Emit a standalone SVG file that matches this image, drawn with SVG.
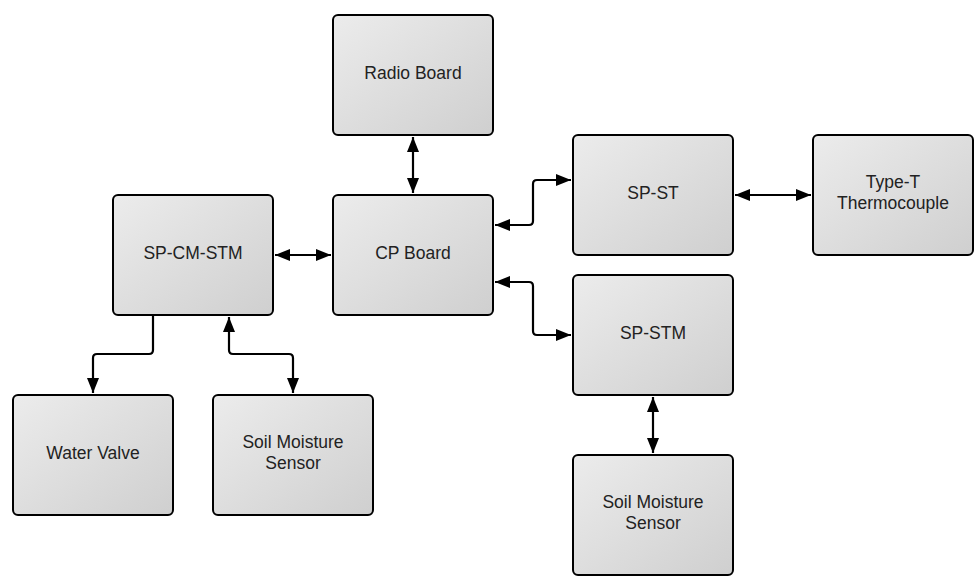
<svg xmlns="http://www.w3.org/2000/svg" width="980" height="586" viewBox="0 0 980 586">
<defs>
<linearGradient id="g" x1="0" y1="0" x2="1" y2="1">
<stop offset="0" stop-color="#ececec"/>
<stop offset="1" stop-color="#cfcfcf"/>
</linearGradient>
<marker id="ah" markerUnits="userSpaceOnUse" markerWidth="16" markerHeight="14" refX="15" refY="7" orient="auto-start-reverse">
<path d="M0,1 L15,7 L0,13 Z" fill="#000"/>
</marker>
<style>
.n rect{fill:url(#g);stroke:#000;stroke-width:2}
.n text{font-family:"Liberation Sans",Arial,sans-serif;font-size:17.5px;fill:#222;text-anchor:middle}
.c path{fill:none;stroke:#000;stroke-width:2.2;stroke-linejoin:round}
</style>
</defs>
<rect width="980" height="586" fill="#fff"/>
<g class="c">
<path d="M413,137 L413,193" marker-start="url(#ah)" marker-end="url(#ah)"/>
<path d="M275,255 L331,255" marker-start="url(#ah)" marker-end="url(#ah)"/>
<path d="M495,225 L529,225 Q533,225 533,221 L533,184 Q533,180 537,180 L571,180" marker-start="url(#ah)" marker-end="url(#ah)"/>
<path d="M495,282 L529,282 Q533,282 533,286 L533,331 Q533,335 537,335 L571,335" marker-start="url(#ah)" marker-end="url(#ah)"/>
<path d="M735,195 L811,195" marker-start="url(#ah)" marker-end="url(#ah)"/>
<path d="M153,316 L153,350 Q153,354 149,354 L97,354 Q93,354 93,358 L93,393" marker-end="url(#ah)"/>
<path d="M229,317 L229,350 Q229,354 233,354 L289,354 Q293,354 293,358 L293,393" marker-start="url(#ah)" marker-end="url(#ah)"/>
<path d="M653,397 L653,453" marker-start="url(#ah)" marker-end="url(#ah)"/>
</g>
<g id="radio" class="n"><rect x="333" y="15" width="160" height="120" rx="5"/><text x="413" y="79">Radio Board</text></g>
<g id="cp" class="n"><rect x="333" y="195" width="160" height="120" rx="5"/><text x="413" y="259">CP Board</text></g>
<g id="spcmstm" class="n"><rect x="113" y="195" width="160" height="120" rx="5"/><text x="193" y="259">SP-CM-STM</text></g>
<g id="spst" class="n"><rect x="573" y="135" width="160" height="120" rx="5"/><text x="653" y="199">SP-ST</text></g>
<g id="typet" class="n"><rect x="813" y="135" width="160" height="120" rx="5"/><text x="893" y="188">Type-T</text><text x="893" y="209">Thermocouple</text></g>
<g id="spstm" class="n"><rect x="573" y="275" width="160" height="120" rx="5"/><text x="653" y="339">SP-STM</text></g>
<g id="valve" class="n"><rect x="13" y="395" width="160" height="120" rx="5"/><text x="93" y="459">Water Valve</text></g>
<g id="soil1" class="n"><rect x="213" y="395" width="160" height="120" rx="5"/><text x="293" y="448">Soil Moisture</text><text x="293" y="469">Sensor</text></g>
<g id="soil2" class="n"><rect x="573" y="455" width="160" height="120" rx="5"/><text x="653" y="508">Soil Moisture</text><text x="653" y="529">Sensor</text></g>
</svg>
